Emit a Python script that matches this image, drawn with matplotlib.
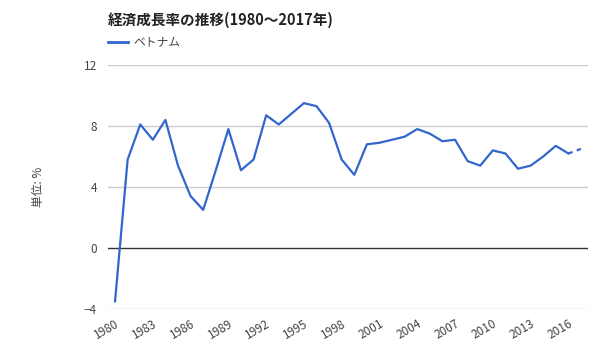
import matplotlib.pyplot as plt
from matplotlib.lines import Line2D

plt.rcParams['font.family'] = ['Noto Sans CJK JP', 'DejaVu Sans']

# データ（ベトナムの経済成長率, %）
years = list(range(1980, 2018))
growth = [-3.5, 5.8, 8.1, 7.1, 8.4, 5.4, 3.4, 2.5, 5.1, 7.8,
          5.1, 5.8, 8.7, 8.1, 8.8, 9.5, 9.3, 8.2, 5.8, 4.8,
          6.8, 6.9, 7.1, 7.3, 7.8, 7.5, 7.0, 7.1, 5.7, 5.4,
          6.4, 6.2, 5.2, 5.4, 6.0, 6.7, 6.2, 6.5]
yticks = [-4, 0, 4, 8, 12]
xtick_years = years[::3]

blue = '#3366cc'
grey = '#444444'

fig = plt.figure(figsize=(6, 3.6), dpi=100)
ax = fig.add_axes([0.18, 0.1417, 0.80, 0.6777])

# 実績は実線、最後の区間（予測）は点線
ax.plot(years[:-1], growth[:-1], color=blue, lw=1.6, zorder=3)
ax.plot(years[-2:], growth[-2:], color=blue, lw=1.6, ls=(0, (2, 2)), zorder=3)

ax.set_xlim(years[0] - 0.56, years[-1] + 0.56)
ax.set_ylim(-4, 12)
ax.set_yticks(yticks)
ax.set_xticks(xtick_years)
ax.set_xticklabels([str(y) for y in xtick_years], rotation=30, ha='right',
                   rotation_mode='anchor')
ax.tick_params(length=0, labelsize=8.5, colors=grey)
ax.tick_params(axis='x', pad=6)
ax.tick_params(axis='y', pad=8)

for y in yticks:
    ax.axhline(y, color='#333333' if y == 0 else '#cccccc', lw=1, zorder=1)
for s in ax.spines.values():
    s.set_visible(False)

ax.set_ylabel('単位: %', fontsize=8.5, color=grey, labelpad=28)

fig.text(0.18, 0.945, '経済成長率の推移(1980～2017年)', fontsize=10.5,
         fontweight='bold', color='#222222', va='center')
fig.add_artist(Line2D([0.18, 0.213], [0.883, 0.883], color=blue, lw=2))
fig.text(0.223, 0.883, 'ベトナム', fontsize=8.5, color=grey, va='center')

fig.savefig('out.png', dpi=100)
